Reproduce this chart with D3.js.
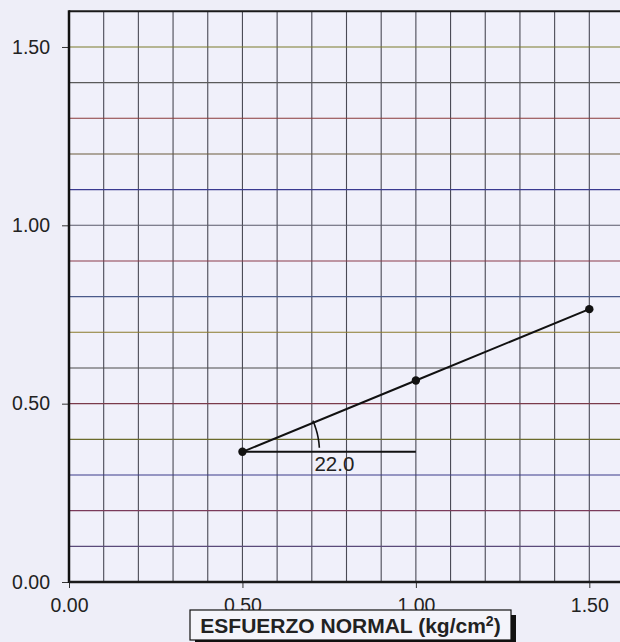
<!DOCTYPE html>
<html><head><meta charset="utf-8">
<script src="https://cdn.jsdelivr.net/npm/d3@7"></script>
<style>
html,body{margin:0;padding:0;background:#eeeef8;}
svg{display:block;}
text{font-family:Arial,"Liberation Sans",sans-serif;}
</style></head>
<body>
<script>
// Data
const normalStress = [0.5, 1.0, 1.5];
const shearStress = [0.365, 0.565, 0.765];
const angleLabel = "22.0";
const xTickValues = [0, 0.5, 1.0, 1.5];
const yTickValues = [0, 0.5, 1.0, 1.5];
const xTitle = "ESFUERZO NORMAL (kg/cm";
const hGridColors = ["#5a4a7a","#7a3a5a","#3a3a8a","#6a6a2a","#7a3a4a","#4a4a4a","#8a7a2a","#4a5a8a","#8a3a4a","#5a5a6a","#3a3a90","#6a5a3a","#8a3a3a","#5a5a5a","#7a7a2a"];

const W = 620, H = 642;
const svg = d3.select("body").append("svg").attr("width", W).attr("height", H);

const x = d3.scaleLinear().domain([0, 1.6]).range([69, 624]);
const y = d3.scaleLinear().domain([0, 1.6]).range([582, 11.3]);

// plot background
svg.append("rect").attr("x", x(0)).attr("y", y(1.6)).attr("width", x(1.6) - x(0)).attr("height", y(0) - y(1.6)).attr("fill", "#f0f0fa");

// vertical grid
const xGrid = d3.range(1, 16).map(i => i / 10);
svg.append("g").selectAll("line").data(xGrid).join("line")
  .attr("x1", d => x(d)).attr("x2", d => x(d))
  .attr("y1", y(1.6)).attr("y2", y(0))
  .attr("stroke", "#4a4a55").attr("stroke-width", 1.1);

// horizontal grid
const yGrid = d3.range(1, 16).map(i => i / 10);
svg.append("g").selectAll("line").data(yGrid).join("line")
  .attr("x1", x(0)).attr("x2", x(1.6))
  .attr("y1", d => y(d)).attr("y2", d => y(d))
  .attr("stroke", (d, i) => hGridColors[i % hGridColors.length]).attr("stroke-width", 1.1);

// top border
svg.append("line").attr("x1", x(0)).attr("x2", x(1.6)).attr("y1", y(1.6)).attr("y2", y(1.6))
  .attr("stroke", "#1a1a1a").attr("stroke-width", 2);

// axes
const yAxis = d3.axisLeft(y).tickValues(yTickValues).tickFormat(d3.format(".2f")).tickSize(7).tickPadding(12);
const gy = svg.append("g").attr("transform", `translate(${x(0)},0)`).call(yAxis);
gy.select(".domain").remove();
gy.selectAll(".tick line").attr("stroke", "#333");
gy.selectAll(".tick text").attr("font-size", 19.5).attr("fill", "#222").attr("font-family", "Arial, 'Liberation Sans', sans-serif");

const xAxis = d3.axisBottom(x).tickValues(xTickValues).tickFormat(d3.format(".2f")).tickSize(6).tickPadding(10);
const gx = svg.append("g").attr("transform", `translate(0,${y(0)})`).call(xAxis);
gx.select(".domain").remove();
gx.selectAll(".tick line").attr("stroke", "#333");
gx.selectAll(".tick text").attr("font-size", 19.5).attr("fill", "#222").attr("font-family", "Arial, 'Liberation Sans', sans-serif");

svg.append("line").attr("x1", x(0)).attr("x2", x(0)).attr("y1", y(1.6) - 1).attr("y2", y(0) + 1)
  .attr("stroke", "#111").attr("stroke-width", 2.5);
svg.append("line").attr("x1", x(0)).attr("x2", x(1.6)).attr("y1", y(0)).attr("y2", y(0))
  .attr("stroke", "#1a1a1a").attr("stroke-width", 2.5);

// data line
const pts = normalStress.map((d, i) => [d, shearStress[i]]);
svg.append("path").datum(pts)
  .attr("d", d3.line().x(d => x(d[0])).y(d => y(d[1])))
  .attr("fill", "none").attr("stroke", "#111").attr("stroke-width", 2);

// horizontal reference line
svg.append("line").attr("x1", x(normalStress[0])).attr("x2", x(normalStress[1]))
  .attr("y1", y(shearStress[0])).attr("y2", y(shearStress[0]))
  .attr("stroke", "#111").attr("stroke-width", 2);

// angle arc
const cx = x(normalStress[0]), cy = y(shearStress[0]);
const slopePx = Math.atan2(y(shearStress[0]) - y(shearStress[1]), x(normalStress[1]) - x(normalStress[0]));
const r = 77;
const a0 = 3 * Math.PI / 180, a1 = slopePx + 1.5 * Math.PI / 180;
const arcPts = d3.range(0, 21).map(i => {
  const a = a0 + (a1 - a0) * i / 20;
  return [cx + r * Math.cos(a), cy - r * Math.sin(a)];
});
svg.append("path").datum(arcPts).attr("d", d3.line().curve(d3.curveBasis))
  .attr("fill", "none").attr("stroke", "#111").attr("stroke-width", 1.6);

svg.append("text").attr("x", cx + 72).attr("y", cy + 19).attr("font-size", 20.5).attr("fill", "#222").text(angleLabel);

// points
svg.append("g").selectAll("circle").data(pts).join("circle")
  .attr("cx", d => x(d[0])).attr("cy", d => y(d[1])).attr("r", 4.2).attr("fill", "#111");

// x title box
const bx = 190, by = 610, bw = 321, bh = 30;
svg.append("rect").attr("x", bx + 5).attr("y", by + 5).attr("width", bw).attr("height", bh).attr("fill", "#111");
svg.append("rect").attr("x", bx).attr("y", by).attr("width", bw).attr("height", bh).attr("fill", "#f4f4fa").attr("stroke", "#111").attr("stroke-width", 1.2);
const t = svg.append("text").attr("x", bx + bw / 2).attr("y", by + 23).attr("text-anchor", "middle")
  .attr("font-size", 21).attr("font-weight", "bold").attr("fill", "#222");
t.append("tspan").text(xTitle);
t.append("tspan").attr("font-size", 14).attr("dy", -7).text("2");
t.append("tspan").attr("dy", 7).text(")");
</script>
</body></html>
